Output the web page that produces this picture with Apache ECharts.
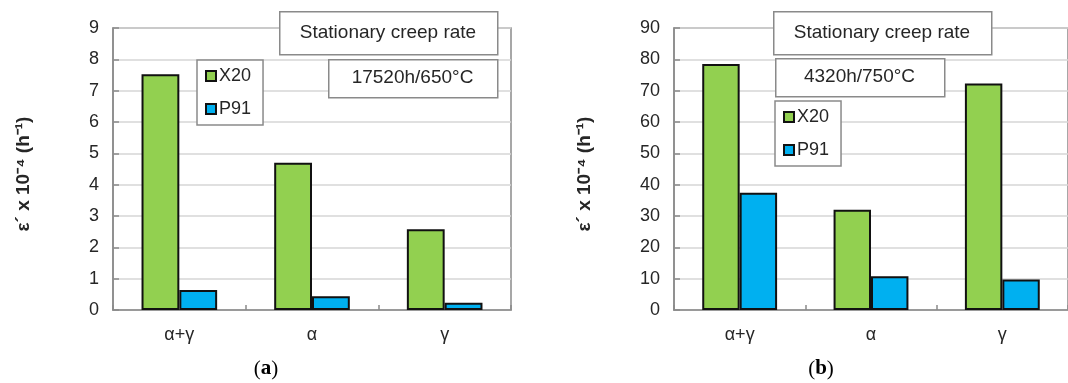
<!DOCTYPE html>
<html>
<head>
<meta charset="utf-8">
<script src="https://cdn.jsdelivr.net/npm/echarts@6/dist/echarts.min.js"></script>
<style>
  html, body { margin: 0; padding: 0; background: #fff; }
  #main { width: 1068px; height: 383px; }
</style>
</head>
<body>
<div id="main"></div>
<script>
// data
var categories = ['α+γ', 'α', 'γ'];
var x20_a = [7.52, 4.70, 2.58];
var p91_a = [0.64, 0.44, 0.23];
var x20_b = [78.5, 32.0, 72.3];
var p91_b = [37.4, 10.8, 9.7];

var FONT = 'Liberation Sans';
var TXT = '#262626';
var GRAY = '#8a8a8a';

function xAxis(idx) {
    return {
        type: 'category', gridIndex: idx, data: categories,
        axisLine: { lineStyle: { color: GRAY, width: 1.5 } },
        axisTick: { show: true, inside: true, length: 5, lineStyle: { color: GRAY, width: 1.5 } },
        axisLabel: { fontFamily: FONT, fontSize: 18, color: TXT, margin: 16 }
    };
}
function yAxis(idx, max, step) {
    return {
        type: 'value', gridIndex: idx, min: 0, max: max, interval: step,
        name: 'ε´ x 10⁻⁴ (h⁻¹)', nameLocation: 'middle', nameGap: 80,
        nameTextStyle: { fontFamily: FONT, fontSize: 19, fontWeight: 'bold', color: TXT, padding: [0, 10, 0, 0] },
        axisLine: { show: true, lineStyle: { color: GRAY, width: 1.5 } },
        axisTick: { show: true, inside: true, length: 6, lineStyle: { color: GRAY, width: 1.5 } },
        axisLabel: { fontFamily: FONT, fontSize: 18, color: TXT, margin: 14 },
        splitLine: { lineStyle: { color: '#d6d6d6', width: 1.5 } }
    };
}
function bar(name, idx, data, color) {
    return {
        name: name, type: 'bar', xAxisIndex: idx, yAxisIndex: idx, data: data,
        barGap: '0%', barCategoryGap: '43%',
        itemStyle: { color: color, borderColor: '#111', borderWidth: 2 },
        emphasis: { disabled: true }
    };
}
function legend(left, top) {
    return {
        data: ['X20', 'P91'], orient: 'vertical', left: left, top: top,
        icon: 'rect', itemWidth: 10, itemHeight: 10, itemGap: 13,
        padding: [6, 12, 6, 8], borderColor: GRAY, borderWidth: 1.5,
        backgroundColor: '#fff',
        textStyle: { fontFamily: FONT, fontSize: 18, color: TXT, lineHeight: 20, padding: [0, 0, 0, -2] },
        selectedMode: false
    };
}
function box(x, y, w, h, text) {
    return [
        { type: 'rect', left: x, top: y, z: 50,
          shape: { width: w, height: h },
          style: { fill: '#fff', stroke: GRAY, lineWidth: 1.5 } },
        { type: 'text', x: x + w / 2, y: y + h / 2, z: 51,
          style: { text: text, font: '19px "Liberation Sans"', fill: TXT,
                   textAlign: 'center', textVerticalAlign: 'middle' } }
    ];
}
function panelLabel(cx, cy, letter) {
    return { type: 'text', x: cx, y: cy, z: 51,
        style: { text: '{n|(}{b|' + letter + '}{n|)}', textAlign: 'center', textVerticalAlign: 'middle',
            rich: { n: { fontFamily: 'Liberation Serif', fontSize: 21, fill: '#000' },
                    b: { fontFamily: 'Liberation Serif', fontSize: 21, fontWeight: 'bold', fill: '#000' } } } };
}

var chart = echarts.init(document.getElementById('main'));
chart.setOption({
    animation: false,
    backgroundColor: '#fff',
    grid: [
        { left: 113, top: 28, width: 398, height: 282, show: true, borderColor: GRAY, borderWidth: 1.5 },
        { left: 674, top: 28, width: 398, height: 282, show: true, borderColor: GRAY, borderWidth: 1.5 }
    ],
    xAxis: [xAxis(0), xAxis(1)],
    yAxis: [yAxis(0, 9, 1), yAxis(1, 90, 10)],
    legend: [legend(197, 60), legend(775, 101)],
    series: [
        bar('X20', 0, x20_a, '#92D050'),
        bar('P91', 0, p91_a, '#00B0F0'),
        bar('X20', 1, x20_b, '#92D050'),
        bar('P91', 1, p91_b, '#00B0F0')
    ],
    graphic: [].concat(
        box(279, 11, 218, 43, 'Stationary creep rate'),
        box(328, 59, 169, 38, '17520h/650°C'),
        box(773, 11, 218, 43, 'Stationary creep rate'),
        box(775, 58, 169, 38, '4320h/750°C'),
        [panelLabel(266, 369, 'a'), panelLabel(821, 369, 'b')]
    )
});
</script>
</body>
</html>
